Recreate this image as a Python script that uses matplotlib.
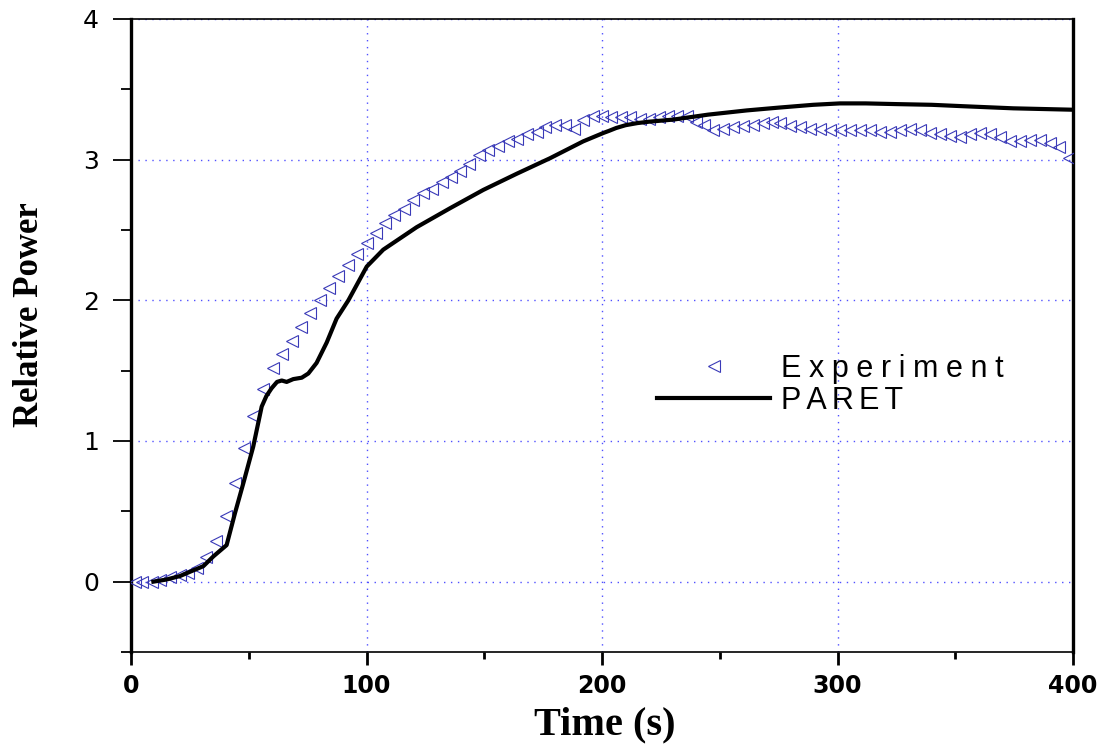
import matplotlib
matplotlib.use("Agg")
import matplotlib.pyplot as plt
from matplotlib.ticker import MultipleLocator

exp_t = [1.7, 4.5, 8.8, 12.3, 16.5, 20.8, 24.3, 27.9, 31.8, 36.1, 40.3, 44.2, 48.1, 51.9, 56.2,
         60.4, 64.3, 68.2, 72.0, 76.0, 80.3, 84, 88, 92, 95.8, 100.1, 104, 107.9, 111.8, 116,
         119.9, 123.9, 127.7, 131.9, 135.7, 139.7, 143.7, 147.9, 151.7, 156, 160, 163.8, 168,
         172.3, 176, 180, 184.3, 188, 192, 196, 200, 204, 208, 212, 216, 220, 224, 228, 232,
         236, 240, 243.5, 247.3, 251.5, 255.8, 260, 264.2, 268.5, 272, 275.6, 279.8, 284, 288.3,
         292.6, 296.8, 301, 305.3, 309.6, 313.8, 318, 322.3, 326.5, 330.8, 335, 339.3, 343.5,
         347.8, 352, 356.3, 360.5, 364.8, 369, 373.2, 377.5, 381.7, 386, 390.2, 394, 398.5]
exp_p = [0, 0, 0, 0.01, 0.03, 0.05, 0.06, 0.10, 0.175, 0.29, 0.47, 0.70, 0.95, 1.18, 1.37,
         1.52, 1.62, 1.71, 1.81, 1.91, 2.0, 2.09, 2.17, 2.25, 2.33, 2.41, 2.48, 2.55, 2.61, 2.65,
         2.71, 2.76, 2.79, 2.84, 2.88, 2.92, 2.97, 3.03, 3.07, 3.10, 3.13, 3.15, 3.18,
         3.20, 3.235, 3.25, 3.25, 3.22, 3.28, 3.31, 3.31, 3.30, 3.30, 3.30, 3.29, 3.29, 3.30, 3.31, 3.31,
         3.31, 3.27, 3.25, 3.21, 3.22, 3.235, 3.24, 3.25, 3.26, 3.27, 3.26, 3.24, 3.23, 3.22,
         3.215, 3.21, 3.21, 3.21, 3.21, 3.21, 3.20, 3.20, 3.21, 3.215, 3.21, 3.19, 3.18,
         3.165, 3.16, 3.18, 3.19, 3.185, 3.16, 3.135, 3.135, 3.14, 3.14, 3.12, 3.09, 3.01]

paret_t = [9.5, 15, 20.8, 25, 30.7, 35, 40.6, 44.2, 47.7, 51.9, 55.5, 57.5, 59.7, 62, 64, 66.1,
           68.9, 72.5, 75.3, 78.8, 83.1, 87.3, 92.3, 100.1, 107.1, 121.3, 135.5, 149.6, 163.8,
           177.9, 192, 200.6, 203, 206, 210, 215, 220, 230.3, 245, 261.4, 275, 289.7, 301, 312,
           325, 340, 353.4, 374.6, 400]
paret_p = [0, 0.015, 0.04, 0.07, 0.11, 0.18, 0.26, 0.49, 0.70, 0.96, 1.245, 1.32, 1.375, 1.42,
           1.43, 1.42, 1.44, 1.45, 1.48, 1.555, 1.70, 1.87, 2.0, 2.24, 2.36, 2.52, 2.655, 2.785,
           2.90, 3.01, 3.13, 3.19, 3.205, 3.225, 3.245, 3.26, 3.27, 3.285, 3.32, 3.35, 3.37,
           3.39, 3.40, 3.40, 3.395, 3.39, 3.38, 3.365, 3.355]

x_ticks = [0, 100, 200, 300, 400]
y_ticks = [0, 1, 2, 3, 4]

fig = plt.figure(figsize=(11.05, 7.54), dpi=100)
ax = fig.add_axes([131/1105, 1-652/754, (1073-131)/1105, (652-19)/754])

ax.plot(exp_t, exp_p, linestyle='none', marker='<', markersize=8.5, markerfacecolor='none',
        markeredgecolor='#3a3ab8', markeredgewidth=0.8,
        label='E\u2005x\u2005p\u2005e\u2005r\u2005i\u2005m\u2005e\u2005n\u2005t', zorder=3)
ax.plot(paret_t, paret_p, color='black', linewidth=3.0, label='P\u2006A\u2006R\u2006E\u2006T', zorder=4)

ax.set_xlim(0, 400)
ax.set_ylim(-0.5, 4)
ax.set_xticks(x_ticks)
ax.set_yticks(y_ticks)
ax.xaxis.set_minor_locator(MultipleLocator(50))
ax.yaxis.set_minor_locator(MultipleLocator(0.5))

ax.grid(True, which='major', color='#5050ff', linestyle=(0, (1, 4)), linewidth=1.0)

ax.tick_params(axis='x', which='major', direction='out', length=9.5, width=2.0, pad=6,
               labelsize=17)
ax.tick_params(axis='x', which='minor', direction='out', length=5, width=2.0)
ax.tick_params(axis='y', which='major', direction='out', length=13, width=1.3, pad=10,
               labelsize=18)
ax.tick_params(axis='y', which='minor', direction='out', length=7, width=1.3)
for lab in ax.get_xticklabels():
    lab.set_fontweight('bold')
    lab.set_family('DejaVu Sans')
for lab in ax.get_yticklabels():
    lab.set_family('DejaVu Sans')

ax.spines['left'].set_linewidth(2.4)
ax.spines['right'].set_linewidth(2.4)
ax.spines['top'].set_linewidth(1.2)
ax.spines['bottom'].set_linewidth(1.2)

ax.set_xlabel('Time (s)', family='Liberation Serif', fontweight='bold', fontsize=29)
ax.xaxis.set_label_coords((605-131)/942, (652-706)/633)
ax.set_ylabel('Relative Power', family='Liberation Serif', fontweight='bold', fontsize=25)
ax.yaxis.set_label_coords((46-131)/942, (652-315)/633)

leg = ax.legend(loc='upper left', bbox_to_anchor=((657-131)/942, (652-354)/633), frameon=False,
                prop={'family': ['Liberation Sans', 'DejaVu Sans'], 'size': 22},
                handlelength=3.7, handletextpad=0.35, labelspacing=0.05, borderpad=0,
                borderaxespad=0, markerscale=1.1)

fig.savefig('out.png', dpi=100)
